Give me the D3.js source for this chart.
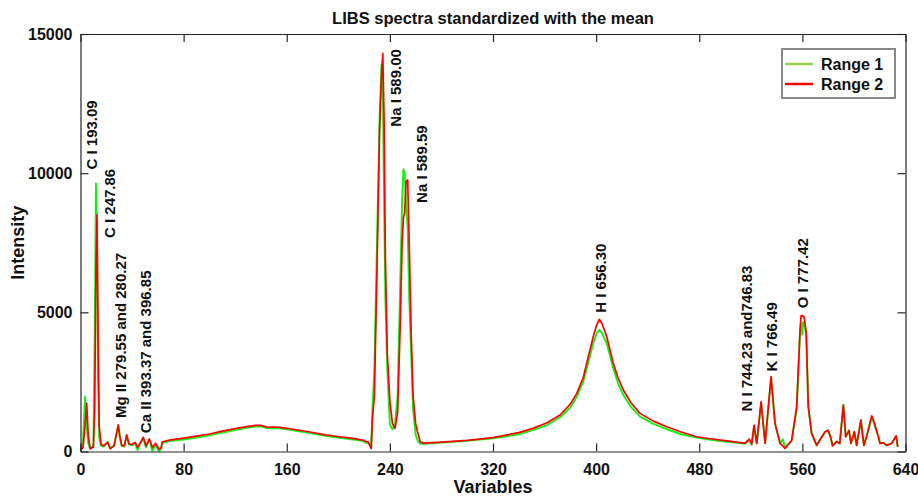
<!DOCTYPE html>
<html>
<head>
  <meta charset="utf-8">
  <script src="https://d3js.org/d3.v7.min.js"></script>
  <style>
    body { margin: 0; background: #fff; }
    text { font-family: "Liberation Sans", Arial, sans-serif; font-weight: bold; fill: #111; }
  </style>
</head>
<body>
  <svg width="918" height="496"></svg>
  <script>
    // values
    var variables = [0, 2, 3.5, 4.8, 6, 7.5, 9, 10, 11, 12, 12.8, 13.5, 14.5, 16, 18, 21, 23, 26, 29.3, 30.5, 32, 34, 35.8, 37.6, 40, 42.3, 44.3, 46, 48.7, 50.8, 53.4, 55.7, 58.3, 60.9, 62.5, 63.5, 70, 80, 90, 100, 110, 120, 130, 136, 140, 145, 150, 155, 165, 178, 190, 201, 210, 219, 222, 223, 225.5, 226.5, 228, 230, 232, 233.5, 234.5, 235.5, 236.5, 238, 240, 242, 244, 246, 248, 249.5, 250.5, 251.5, 252.5, 253.8, 255, 256.5, 258, 260, 261.5, 263.5, 266, 280, 300, 320, 340, 351, 362, 372, 380, 385, 390, 392.7, 397.8, 400.5, 402.5, 404.5, 408.2, 413.3, 417, 421.1, 427, 434, 444, 454.8, 466, 478, 490, 500, 510, 515.5, 518.9, 520.7, 522.5, 524.6, 528, 531.1, 535.7, 538.8, 542.7, 544.8, 546.5, 551.7, 555.6, 558.2, 559, 559.8, 560.5, 561.3, 563, 564.6, 567.2, 571.1, 574, 577.6, 580, 581.8, 583.5, 586.6, 589, 591.8, 593.6, 596.2, 597.7, 600.3, 602.1, 605.4, 607.7, 609.8, 613.8, 615.6, 619, 620.2, 622.8, 625.4, 629.3, 632.7, 634];
    var range1 = [50, 400, 1970, 900, 300, 90, 150, 200, 4000, 9640, 8000, 3000, 500, 200, 180, 350, 120, 200, 950, 500, 200, 180, 560, 250, 220, 300, 50, 250, 480, 150, 430, 20, 250, 0, 100, 300, 380, 430, 500, 580, 680, 770, 860, 900, 900, 830, 840, 830, 760, 660, 560, 490, 440, 380, 300, 330, 150, 1500, 3000, 7500, 12000, 13900, 13200, 9000, 5500, 3000, 950, 800, 1000, 2000, 6000, 9000, 10140, 10000, 9000, 8000, 5500, 3500, 1500, 600, 400, 280, 280, 320, 380, 470, 620, 770, 950, 1230, 1580, 1970, 2500, 2990, 3890, 4250, 4370, 4250, 3890, 2990, 2450, 2030, 1600, 1250, 1000, 800, 620, 500, 410, 360, 310, 280, 430, 250, 900, 290, 1750, 290, 2650, 1000, 290, 440, 150, 380, 1550, 4300, 4600, 4200, 4650, 4650, 4200, 1600, 650, 220, 450, 700, 760, 530, 200, 360, 290, 1670, 530, 760, 290, 710, 220, 1130, 220, 530, 1250, 1000, 530, 290, 310, 220, 290, 560, 170];
    var range2 = [50, 150, 900, 1730, 600, 100, 150, 150, 1500, 6500, 8500, 5000, 900, 250, 200, 330, 100, 200, 950, 550, 220, 200, 600, 280, 250, 330, 150, 280, 510, 200, 450, 150, 290, 80, 120, 350, 420, 480, 550, 630, 730, 820, 900, 940, 940, 870, 880, 870, 800, 700, 600, 530, 480, 410, 350, 360, 100, 1200, 2000, 6500, 11500, 13500, 14300, 12000, 7000, 3500, 1800, 1000, 830, 1400, 4500, 7500, 8400, 8600, 9700, 9760, 7500, 4300, 2000, 1000, 700, 350, 300, 340, 400, 500, 680, 830, 1030, 1310, 1700, 2090, 2650, 3170, 4130, 4550, 4750, 4600, 4130, 3170, 2650, 2210, 1750, 1370, 1100, 890, 700, 530, 450, 390, 330, 300, 440, 260, 950, 290, 1790, 290, 2690, 1010, 290, 200, 110, 400, 1610, 4370, 4880, 4880, 4850, 4850, 4250, 1610, 650, 220, 450, 710, 760, 530, 200, 360, 290, 1670, 530, 760, 290, 710, 220, 1130, 220, 530, 1280, 1070, 530, 290, 310, 220, 290, 560, 170];

    var xTicks = [0, 80, 160, 240, 320, 400, 480, 560, 640];
    var yTicks = [0, 5000, 10000, 15000];

    // peak labels: variable position, intensity where the label starts
    var peakNames = ["C I 193.09", "C I 247.86", "Mg II 279.55 and 280.27", "Ca II 393.37 and 396.85",
                     "Na I 589.00", "Na I 589.59", "H I 656.30", "N I 744.23 and746.83", "K I 766.49", "O I 777.42"];
    var peakVar = [12.9, 26.8, 35.4, 54.8, 248.8, 268.9, 407.5, 521, 540.4, 564.6];
    var peakY = [10130, 7670, 1205, 660, 11670, 8930, 4985, 1435, 2875, 5145];

    var seriesNames = ["Range 1", "Range 2"];

    var svg = d3.select("svg");
    var margin = {left: 80.5, right: 12.5, top: 34, bottom: 44.5};
    var W = 918, H = 496;

    var x = d3.scaleLinear().domain([0, 640]).range([margin.left, W - margin.right]);
    var y = d3.scaleLinear().domain([0, 15000]).range([H - margin.bottom, margin.top]);

    var line = d3.line()
      .x(function(d) { return x(d[0]); })
      .y(function(d) { return y(d[1]); });

    var g1 = d3.zip(variables, range1);
    var g2 = d3.zip(variables, range2);

    svg.append("path").datum(g1)
      .attr("d", line)
      .attr("fill", "none")
      .attr("stroke", "#14f014")
      .attr("stroke-width", 1.9)
      .attr("stroke-linejoin", "round");
    svg.append("path").datum(g2)
      .attr("d", line)
      .attr("fill", "none")
      .attr("stroke", "#ff0000")
      .attr("stroke-width", 1.7)
      .attr("stroke-linejoin", "round");

    // axes, box style with inward ticks
    var tickLen = 8;
    svg.append("g")
      .attr("transform", "translate(0," + y(0) + ")")
      .call(d3.axisBottom(x).tickValues(xTicks).tickSizeInner(-tickLen).tickSizeOuter(0).tickPadding(12))
      .call(function(a) { a.selectAll("text").style("font-size", "16px"); });
    svg.append("g")
      .attr("transform", "translate(0," + y(15000) + ")")
      .call(d3.axisTop(x).tickValues(xTicks).tickSizeInner(-tickLen).tickSizeOuter(0).tickFormat(""));
    svg.append("g")
      .attr("transform", "translate(" + x(0) + ",0)")
      .call(d3.axisLeft(y).tickValues(yTicks).tickSizeInner(-tickLen).tickSizeOuter(0).tickPadding(8).tickFormat(d3.format("d")))
      .call(function(a) { a.selectAll("text").style("font-size", "16px"); });
    svg.append("g")
      .attr("transform", "translate(" + x(640) + ",0)")
      .call(d3.axisRight(y).tickValues(yTicks).tickSizeInner(-tickLen).tickSizeOuter(0).tickFormat(""));
    svg.selectAll(".domain, .tick line").attr("stroke", "#262626").attr("stroke-width", 1.2);
    svg.selectAll(".tick text").attr("fill", "#262626").style("font-family", "'Liberation Sans', Arial, sans-serif").style("font-weight", "bold");

    // peak annotations
    svg.append("g").selectAll("text")
      .data(peakNames)
      .enter().append("text")
      .attr("transform", function(d, i) { return "translate(" + x(peakVar[i]) + "," + y(peakY[i]) + ") rotate(-90)"; })
      .style("font-size", "15px")
      .text(function(d) { return d; });

    // titles
    svg.append("text")
      .attr("x", (x(0) + x(640)) / 2).attr("y", 24)
      .attr("text-anchor", "middle")
      .style("font-size", "16.5px")
      .text("LIBS spectra standardized with the mean");
    svg.append("text")
      .attr("x", (x(0) + x(640)) / 2).attr("y", 493)
      .attr("text-anchor", "middle")
      .style("font-size", "18px")
      .text("Variables");
    svg.append("text")
      .attr("transform", "translate(24," + (y(0) + y(15000)) / 2 + ") rotate(-90)")
      .attr("text-anchor", "middle")
      .style("font-size", "18px")
      .text("Intensity");

    // legend
    var leg = svg.append("g").attr("transform", "translate(782,49)");
    leg.append("rect").attr("width", 113).attr("height", 49)
      .attr("fill", "#fff").attr("stroke", "#888").attr("stroke-width", 2);
    var legColors = ["#92d050", "#ff0000"];
    seriesNames.forEach(function(s, i) {
      leg.append("line").attr("x1", 3).attr("x2", 31).attr("y1", 15 + i * 20).attr("y2", 15 + i * 20)
        .attr("stroke", legColors[i]).attr("stroke-width", 2.5);
      leg.append("text").attr("x", 39).attr("y", 21 + i * 20).style("font-size", "16px").text(s);
    });
  </script>
</body>
</html>
